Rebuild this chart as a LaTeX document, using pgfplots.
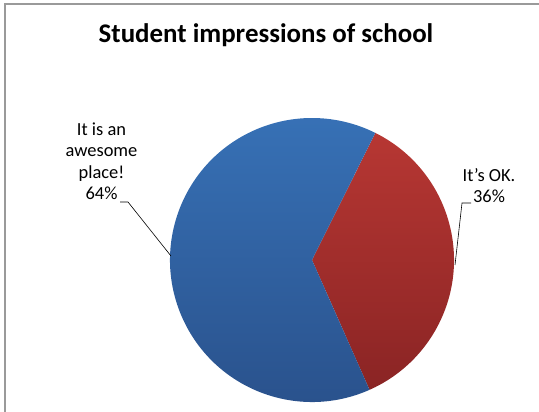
\documentclass[border=0pt]{standalone}
\usepackage{pgfplots}
\usepackage{pgfplotstable}
\pgfplotsset{compat=1.18}
\usepackage{fontspec}
\setmainfont{Carlito}
\definecolor{blueTop}{HTML}{3771B6}
\definecolor{blueBot}{HTML}{29508A}
\definecolor{redTop}{HTML}{B73733}
\definecolor{redBot}{HTML}{8A2424}
\definecolor{frame}{HTML}{9A9A9A}
\pgfplotstableread{
label value
OK 36
Awesome 64
}\piedata
\begin{document}
\begin{tikzpicture}
\pgfplotstablegetelem{0}{value}\of\piedata \let\vA\pgfplotsretval
\pgfplotstablegetelem{1}{value}\of\piedata \let\vB\pgfplotsretval
\pgfmathsetmacro{\total}{\vA+\vB}
\pgfmathsetmacro{\aStart}{63.5}
\pgfmathsetmacro{\aMid}{\aStart-\vA/\total*360}
\pgfmathsetmacro{\aEnd}{\aMid-\vB/\total*360}
\begin{axis}[
  at={(0,0)}, anchor=south west,
  width=539bp, height=412bp, scale only axis,
  xmin=0, xmax=539, ymin=0, ymax=412,
  hide axis, clip=false,
]
% title
\node[font=\fontsize{27}{32}\selectfont\bfseries, anchor=base] at (axis cs:266,369.3) {Student impressions of school};
% pie wedges
\shade[top color=redTop, bottom color=redBot] (axis cs:312,152) -- ++(\aStart:142bp) arc[start angle=\aStart, end angle=\aMid, radius=142bp] -- cycle;
\shade[top color=blueTop, bottom color=blueBot] (axis cs:312,152) -- ++(\aMid:142bp) arc[start angle=\aMid, end angle=\aEnd, radius=142bp] -- cycle;
% labels (base anchor = baseline of last line)
\node[font=\fontsize{18.5}{21.7}\selectfont, align=center, anchor=base] at (axis cs:101.5,212) {It is an\\awesome\\place!\\64\%};
\node[font=\fontsize{18.5}{21.7}\selectfont, align=center, anchor=base] at (axis cs:489,209) {It's OK.\\36\%};
% leader lines
\draw[black, line width=0.6pt] (axis cs:120,210) -- (axis cs:128,210) -- (axis cs:171,156);
\draw[black, line width=0.6pt] (axis cs:471,209) -- (axis cs:462,209) -- (axis cs:455,147);
\end{axis}
% frame (top and left edges visible)
\fill[frame] (3.5bp,0) rectangle (5.5bp,408.5bp);
\fill[frame] (3.5bp,406.5bp) rectangle (539bp,408.5bp);
\pgfresetboundingbox
\path[use as bounding box] (0,0) rectangle (539bp,412bp);
\end{tikzpicture}
\end{document}
